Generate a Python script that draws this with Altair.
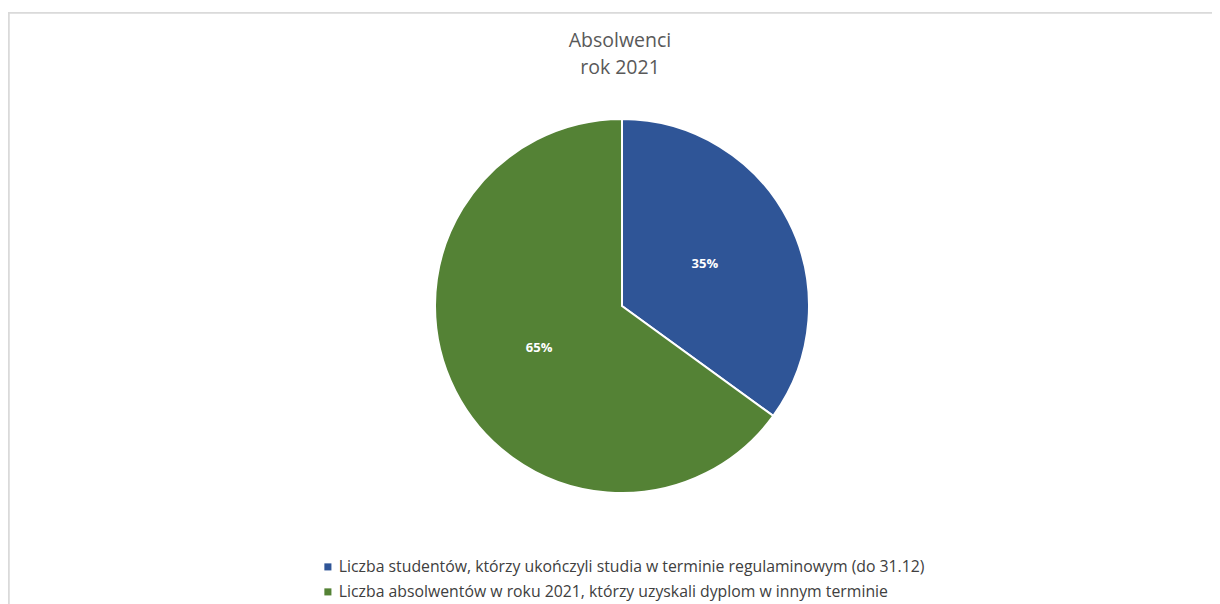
import altair as alt
import pandas as pd

categories = [
    "Liczba studentów, którzy ukończyli studia w terminie regulaminowym (do 31.12)",
    "Liczba absolwentów w roku 2021, którzy uzyskali dyplom w innym terminie",
]
values = [35, 65]
labels = ["35%", "65%"]
colors = ["#2F5597", "#548235"]

df = pd.DataFrame({"kategoria": categories, "wartosc": values, "etykieta": labels, "idx": [0, 1]})

W, H = 1204, 592
CX, CY, R = 614, 294, 187
FONT = "Open Sans"

base = alt.Chart(df).encode(
    theta=alt.Theta("wartosc:Q", stack=True),
    order=alt.Order("idx:Q"),
    x=alt.value(CX),
    y=alt.value(CY),
)

arcs = base.mark_arc(radius=R, stroke="white", strokeWidth=2).encode(
    color=alt.Color(
        "kategoria:N",
        scale=alt.Scale(domain=categories, range=colors),
        sort=categories,
        legend=alt.Legend(
            title=None,
            orient="none",
            legendX=312,
            legendY=547,
            symbolType="square",
            symbolSize=50,
            symbolStrokeWidth=0,
            labelFont=FONT,
            labelFontSize=15.8,
            labelColor="#404040",
            labelLimit=800,
            rowPadding=8,
            symbolOffset=0,
            labelOffset=3,
        ),
    )
)

texts = base.mark_text(radius=93, font=FONT, fontSize=13, fontWeight="bold", color="white").encode(
    text="etykieta:N"
)

border_df = pd.DataFrame({"b": [0]})
top_rule = alt.Chart(border_df).mark_rule(color="#d9d9d9", strokeWidth=1.5).encode(
    x=alt.value(0), x2=alt.value(W + 20), y=alt.value(1)
)
left_rule = alt.Chart(border_df).mark_rule(color="#d9d9d9", strokeWidth=1.5).encode(
    x=alt.value(1), y=alt.value(0), y2=alt.value(H + 20)
)

chart = alt.layer(top_rule, left_rule, arcs, texts).properties(
    width=W,
    height=H,
    autosize=alt.AutoSizeParams(type="none"),
    padding={"left": 0, "top": 4, "right": 0, "bottom": 0},
    title=alt.TitleParams(
        text=["Absolwenci", "rok 2021"],
        anchor="middle",
        frame="group",
        orient="top",
        offset=-67,
        dx=10,
        baseline="top",
        font=FONT,
        fontSize=19.5,
        fontWeight="normal",
        color="#595959",
        lineHeight=27,
    ),
).configure_view(stroke=None).configure(background="white")

chart.save("out.html", embed_options={"renderer": "svg", "actions": False})
